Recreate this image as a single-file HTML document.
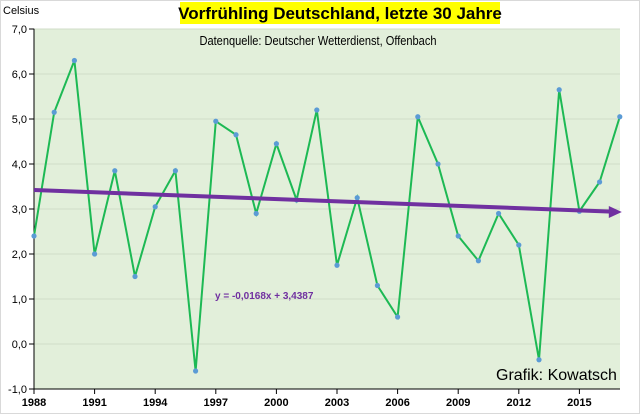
<!DOCTYPE html>
<html><head><meta charset="utf-8"><style>
body{margin:0;background:#fff;}
svg{display:block;font-family:"Liberation Sans",Arial,sans-serif;}
</style></head><body>
<svg id="chart" width="640" height="414" viewBox="0 0 640 414">
<rect x="0.5" y="0.5" width="639" height="413" fill="#fff" stroke="#d9d9d9"/>
<rect x="34" y="28.7" width="586" height="360.3" fill="#e2efda"/>
<g id="grid"></g>
<g id="axes"></g>
<text x="3" y="14" font-size="11">Celsius</text>
<rect x="180" y="2" width="320" height="22" fill="#ffff00"/>
<text x="340" y="19" font-size="17" font-weight="bold" text-anchor="middle">Vorfrühling Deutschland, letzte 30 Jahre</text>
<text x="318" y="45" font-size="13" text-anchor="middle" transform="translate(318 0) scale(0.85 1) translate(-318 0)">Datenquelle: Deutscher Wetterdienst, Offenbach</text>
<text x="496" y="380" font-size="16">Grafik: Kowatsch</text>
<text x="215" y="299" font-size="10" font-weight="bold" fill="#7030a0">y = -0,0168x + 3,4387</text>
<g id="marks"></g>
</svg>
<script>
const years=[1988,1989,1990,1991,1992,1993,1994,1995,1996,1997,1998,1999,2000,2001,2002,2003,2004,2005,2006,2007,2008,2009,2010,2011,2012,2013,2014,2015,2016,2017];
const temps=[2.4,5.15,6.3,2.0,3.85,1.5,3.05,3.85,-0.6,4.95,4.65,2.9,4.45,3.2,5.2,1.75,3.25,1.3,0.6,5.05,4.0,2.4,1.85,2.9,2.2,-0.35,5.65,2.95,3.6,5.05];
const yTicks=[-1,0,1,2,3,4,5,6,7];
const xTickYears=[1988,1991,1994,1997,2000,2003,2006,2009,2012,2015];
const trendSlope=-0.0168, trendIntercept=3.4387;
const NS="http://www.w3.org/2000/svg";
const x=yr=>34+(yr-1988)*20.2;
const y=v=>344-v*45;
function mk(tag,attrs,parent){const e=document.createElementNS(NS,tag);for(const k in attrs)e.setAttribute(k,attrs[k]);parent.appendChild(e);return e;}
const grid=document.getElementById('grid'),axes=document.getElementById('axes'),marks=document.getElementById('marks');
yTicks.forEach(v=>{
 if(v>-1){const g=mk('line',{x1:34,x2:620,y1:y(v),y2:y(v),stroke:'#d0dcc8','stroke-width':1},grid);
 
 }
 const t=mk('line',{x1:29,x2:34,y1:y(v),y2:y(v),stroke:'#000'},axes);
 
 
 const l=mk('text',{x:27,y:y(v)+4,'font-size':11,'text-anchor':'end'},axes);
 l.textContent=v.toFixed(1).replace('.',',');
 
 
});
const ya=mk('line',{x1:34,x2:34,y1:28.7,y2:389,stroke:'#000'},axes);


const xa=mk('line',{x1:34,x2:620,y1:389,y2:389,stroke:'#000'},axes);


xTickYears.forEach(yr=>{
 const t=mk('line',{x1:x(yr),x2:x(yr),y1:389,y2:394,stroke:'#000'},axes);
 
 
 const l=mk('text',{x:x(yr),y:406,'font-size':11,'font-weight':'bold','text-anchor':'middle'},axes);
 l.textContent=yr;
 
 
});
const line=mk('polyline',{points:years.map((yr,i)=>x(yr)+','+y(temps[i])).join(' '),fill:'none',stroke:'#1db954','stroke-width':2},marks);


years.forEach((yr,i)=>{
 const c=mk('circle',{cx:x(yr),cy:y(temps[i]),r:2.6,fill:'#5b9bd5'},marks);
 
 
});
const x1=x(years[0]),x2=x(years[years.length-1])-8;
const tv1=trendSlope*1+trendIntercept,tv2=trendSlope*years.length+trendIntercept;
const tl=mk('line',{x1:x1,y1:y(tv1),x2:x2,y2:y(tv2)+(y(tv1)-y(tv2))*8/(x2-x1+8),stroke:'#7030a0','stroke-width':4},marks);


const ax=x(years[years.length-1]),ay=y(tv2);
const ar=mk('polygon',{points:`${ax+2},${ay} ${ax-11},${ay-6} ${ax-11},${ay+6}`,fill:'#7030a0'},marks);


</script>
</body></html>
